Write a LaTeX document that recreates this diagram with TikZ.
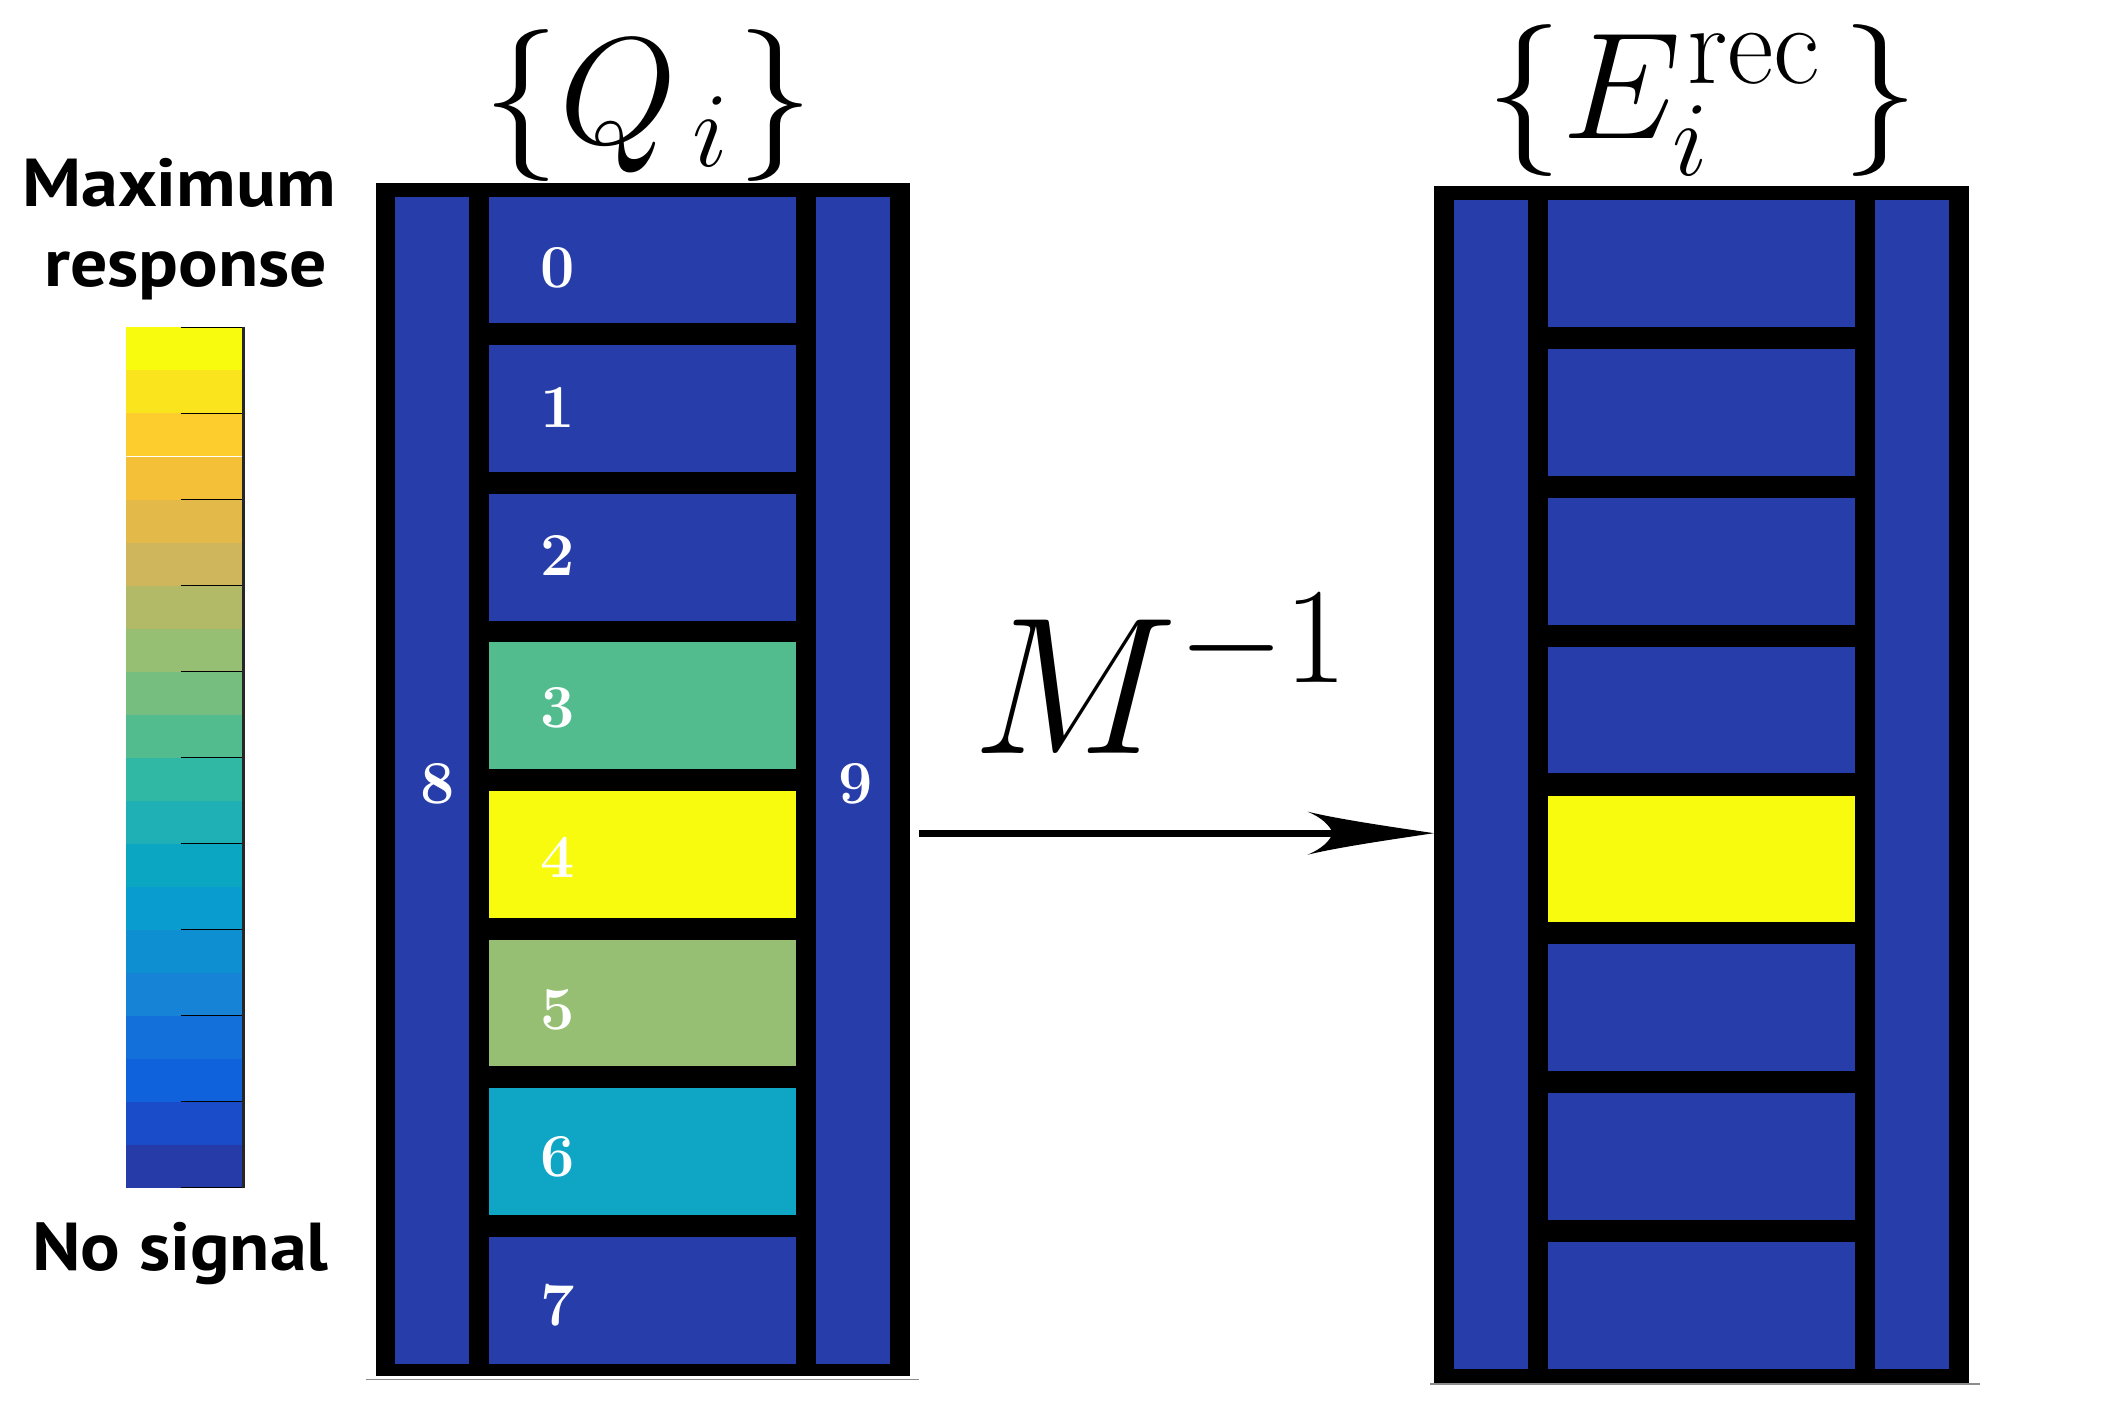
\RequirePackage{fix-cm}
\documentclass[tikz,border=0pt]{standalone}
\usepackage{fontspec}
\newfontfamily\labelfont{PT Sans}
\usetikzlibrary{calc}

\definecolor{pblue}{RGB}{38,61,170}
\definecolor{pyellow}{RGB}{249,251,14}
\definecolor{pgreen}{RGB}{82,188,143}
\definecolor{polive}{RGB}{150,191,115}
\definecolor{pcyan}{RGB}{14,166,196}

\definecolor{cb1}{RGB}{249,251,14}
\definecolor{cb2}{RGB}{250,228,30}
\definecolor{cb3}{RGB}{253,205,45}
\definecolor{cb4}{RGB}{244,192,56}
\definecolor{cb5}{RGB}{227,185,74}
\definecolor{cb6}{RGB}{207,181,92}
\definecolor{cb7}{RGB}{178,186,103}
\definecolor{cb8}{RGB}{150,191,115}
\definecolor{cb9}{RGB}{118,190,128}
\definecolor{cb10}{RGB}{82,188,143}
\definecolor{cb11}{RGB}{48,184,164}
\definecolor{cb12}{RGB}{30,176,180}
\definecolor{cb13}{RGB}{10,166,194}
\definecolor{cb14}{RGB}{8,157,206}
\definecolor{cb15}{RGB}{14,143,210}
\definecolor{cb16}{RGB}{23,131,214}
\definecolor{cb17}{RGB}{19,112,218}
\definecolor{cb18}{RGB}{15,98,219}
\definecolor{cb19}{RGB}{26,75,201}
\definecolor{cb20}{RGB}{38,59,168}

\newcommand{\widetext}[1]{\scalebox{1.09}[1]{#1}}

\tikzset{
  frame/.style={fill=black, draw=none, inner sep=0pt, outer sep=0pt},
  cell/.style={draw=none, inner sep=0pt, outer sep=0pt, minimum width=113.2pt, minimum height=46.75pt},
  side/.style={fill=pblue, draw=none, inner sep=0pt, outer sep=0pt, minimum width=27.5pt},
  digit/.style={text=white, inner sep=0pt, font=\fontsize{22.5}{24}\selectfont\bfseries},
  header/.style={inner sep=0pt, anchor=base, font=\fontsize{56}{60}\selectfont},
  sidelabel/.style={inner sep=0pt, anchor=base, font=\labelfont\bfseries\fontsize{25}{30}\selectfont},
  band/.style={draw=none, inner sep=0pt, outer sep=0pt, minimum width=43.5pt, minimum height=15.86pt},
  tickline/.style={draw=black, line width=0.5pt},
  shadowline/.style={draw=black!45, line width=0.6pt},
  arrowline/.style={draw=black, line width=2.5pt},
}

\begin{document}
\begin{tikzpicture}[x=0.5pt, y=-0.5pt]
\useasboundingbox (0,0) rectangle (1568,1045);
\fill[white] (0,0) rectangle (1568,1045);

% ---------- colour bar ----------
\foreach \k in {1,...,20} {
  \node[band, fill=cb\k] (band\k) at (136.5, {241.5+31.725*(\k-0.5)}) {};
}
\foreach \k in {0,2,...,20} {
  \draw[tickline] (133.3, {241.5+31.725*\k}) -- (179.5, {241.5+31.725*\k});
}
\draw[draw=black!85, line width=1pt] (179.5,241.5) -- (179.5,876);

\node[sidelabel] (maxlbl) at (132,152.4) {\widetext{Maximum}};
\node[sidelabel] (resplbl) at (137,211.4) {\widetext{response}};
\node[sidelabel] (nolbl) at (133,936.7) {\widetext{No signal}};

% ---------- left block ----------
\node[frame, minimum width=197pt, minimum height=440pt] (lframe) at (474,575) {};
\draw[shadowline] (270,1017.5) -- (678,1017.5);
\node[side, minimum height=430.5pt] (lcol8) at (318.5,575.5) {};
\node[side, minimum height=430.5pt] (lcol9) at (629.25,575.5) {};
\foreach \i/\c/\dy in {0/pblue/6,1/pblue/-1,2/pblue/-1,3/pgreen/1.5,4/pyellow/2,5/polive/5,6/pcyan/3.5,7/pblue/4} {
  \node[cell, fill=\c] (lc\i) at (473.75, {191.75+109.6*\i}) {};
  \node[digit] (ld\i) at ($(lc\i.center)+(-62.75,\dy)$) {\i};
}
\node[digit] (ld8) at ($(lcol8.center)+(4.5,2.5)$) {8};
\node[digit] (ld9) at ($(lcol9.center)+(1.75,2.5)$) {9};

% ---------- right block ----------
\node[frame, minimum width=197.2pt, minimum height=441.35pt] (rframe) at (1254.8,578.35) {};
\draw[shadowline] (1055,1020.5) -- (1460,1020.5);
\node[side, minimum height=431.1pt] (rcol8) at (1099.5,578.6) {};
\node[side, minimum height=431.1pt] (rcol9) at (1410,578.6) {};
\foreach \i/\c in {0/pblue,1/pblue,2/pblue,3/pblue,4/pyellow,5/pblue,6/pblue,7/pblue} {
  \node[cell, fill=\c, minimum width=113.15pt] (rc\i) at (1254.85, {194.25+109.8*\i}) {};
}

% ---------- headers ----------
\node[header] (qhead) at (478.5,106) {$\{Q_{\mkern2.5mu i}\mkern1mu\}$};
\node[header] (ehead) at (1255.5,102) {$\{E_i^{\mkern1mu\mbox{\fontsize{42}{42}\selectfont rec}}\mkern2.5mu\}$};

% ---------- arrow ----------
\coordinate (arrowy) at (0,614.5);
\coordinate (tip) at (rframe.west |- arrowy);
\draw[arrowline] ([xshift=3.5pt]lframe.east |- arrowy) -- ([xshift=-35pt]tip);
\fill[black] (tip) .. controls +(-27,-4) and +(21.2,5.4) .. ++(-93.2,-15.9)
  .. controls +(10.2,4.4) and +(-3,-6.5) .. ++(18.7,15.9)
  .. controls +(-3,6.5) and +(10.2,-4.4) .. ++(-18.7,15.9)
  .. controls +(21.2,-5.4) and +(-27,4) .. (tip) -- cycle;
\node[inner sep=0pt, anchor=base, font=\fontsize{72}{80}\selectfont] (minv) at (856,555.5) {$M^{-1}$};
\end{tikzpicture}
\end{document}
